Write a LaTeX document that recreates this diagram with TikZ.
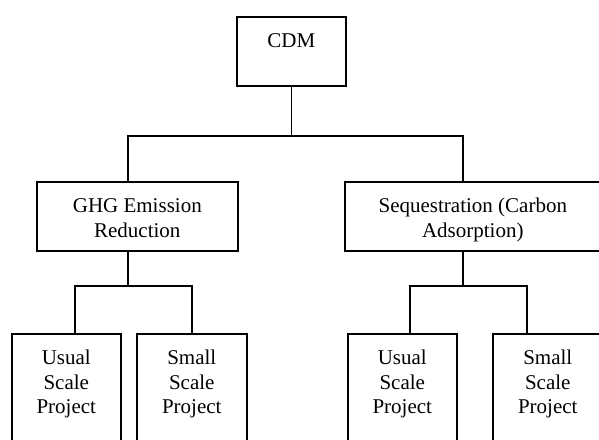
\documentclass[tikz,border=0pt]{standalone}
\usepackage{fontspec}
\setmainfont{Liberation Serif}
\usepackage{tikz}
\usetikzlibrary{positioning,calc}
\newcommand{\boxtxt}[3]{\parbox[t][#2][t]{#1}{\centering\rule{0pt}{31pt}#3}}

\begin{document}
\begin{tikzpicture}[x=1pt,y=-1pt,
 font=\fontsize{21}{24.5}\selectfont,
 box/.style={draw,line width=1.6pt,inner sep=0pt,anchor=north west},
 link/.style={line width=1.6pt}]
\useasboundingbox (0,0) rectangle (599,439);
\clip (0,0) rectangle (599,439);
\node[box] (cdm) at (236,16) {\boxtxt{109pt}{69pt}{CDM}};
\node[box] (ghg) at (36,181) {\boxtxt{201pt}{69pt}{GHG Emission\\Reduction}};
\node[box] (seq) at (344,181) {\boxtxt{256pt}{69pt}{Sequestration (Carbon\\Adsorption)}};
\node[box] (usL) at (11,333) {\boxtxt{109pt}{130pt}{Usual\\Scale\\Project}};
\node[box] (ssL) at (136,333) {\boxtxt{110pt}{130pt}{Small\\Scale\\Project}};
\node[box] (usR) at (347,333) {\boxtxt{109pt}{130pt}{Usual\\Scale\\Project}};
\node[box] (ssR) at (492,333) {\boxtxt{110pt}{130pt}{Small\\Scale\\Project}};
% junctions of the bus lines
\coordinate (jL) at (128,136);
\coordinate (jR) at (463,136);
\coordinate (gL) at (75,286);
\coordinate (gR) at (192,286);
\coordinate (qL) at (410,286);
\coordinate (qR) at (527,286);
\draw[link] (cdm.south) -- (cdm.south |- jL);
\draw[link] (ghg.north -| jL) -- (jL) -- (jR) -- (seq.north -| jR);
\draw[link] (ghg.south -| jL) -- (jL |- gL);
\draw[link] (usL.north -| gL) -- (gL) -- (gR) -- (ssL.north -| gR);
\draw[link] (seq.south -| jR) -- (jR |- qL);
\draw[link] (usR.north -| qL) -- (qL) -- (qR) -- (ssR.north -| qR);
\end{tikzpicture}
\end{document}
